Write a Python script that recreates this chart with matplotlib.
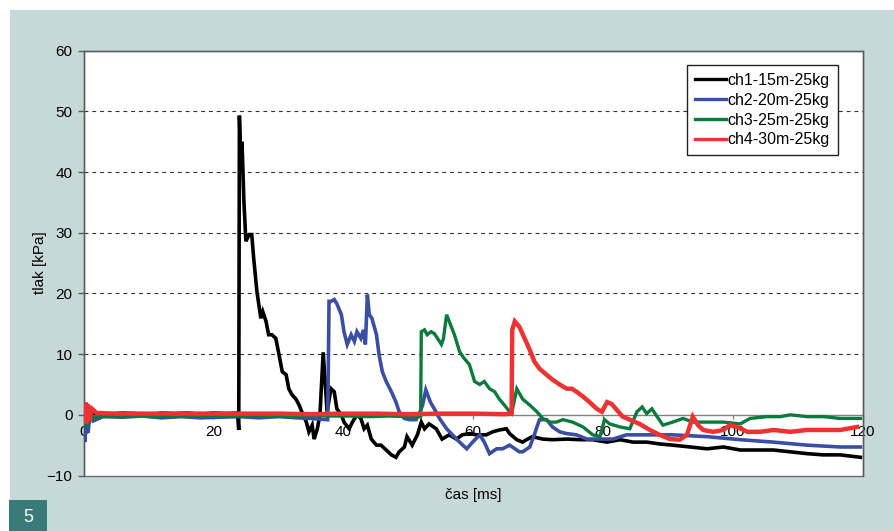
import matplotlib
matplotlib.use("Agg")
import matplotlib.pyplot as plt
from matplotlib.patches import Rectangle

# ---------------- data ----------------
ch1_t = [0, 0.3, 0.6, 1.0, 2, 4, 6, 8, 10, 12, 14, 16, 18, 20, 22, 23.7, 23.9, 24.0, 24.2, 24.4,
         24.7, 25.0, 25.5, 25.9, 26.2, 26.7, 27.3, 27.6, 28.1, 28.5, 29.0, 29.6, 30.1, 30.6, 31.2,
         31.6, 32.1, 32.7, 33.2, 33.6, 34.3, 34.7, 35.2, 35.5, 36.0, 36.4, 36.9, 37.3, 37.5, 38.1,
         38.6, 39.0, 39.7, 40.1, 40.9, 41.4, 42.1, 42.7, 43.2, 43.7, 44.3, 45.1, 45.8, 46.6, 47.4,
         48.1, 48.6, 49.4, 49.8, 50.6, 51.4, 52.0, 52.5, 53.2, 54.3, 55.2, 56.3, 57.4, 58.3, 59.4,
         60.5, 62.0, 63.0, 64.0, 65.1, 65.6, 66.7, 67.6, 68.2, 69.1, 70.7, 72.2, 74.4, 76.4, 78.4,
         80.6, 82.6, 84.6, 86.7, 88.7, 90.7, 93.4, 96.0, 98.5, 101.1, 103.7, 106.2, 108.8, 111.4,
         113.9, 116.5, 119.6]
ch1_p = [0, -1.0, 0.8, 0.2, 0.3, 0.1, 0.3, 0.2, 0.0, 0.3, 0.2, 0.3, 0.1, 0.3, 0.2, 0.3, -2.5, 49.3, 42.0, 45.0,
         35.0, 28.6, 29.7, 29.7, 25.8, 20.3, 15.9, 17.0, 15.4, 13.2, 13.2, 12.6, 9.9, 7.1, 6.6,
         4.3, 3.3, 2.6, 1.6, 0.5, -1.2, -2.8, -1.7, -4.0, -2.3, 0.0, 10.3, 3.8, 0.5, 4.3,
         3.8, 1.0, 0.0, -1.2, -2.3, -1.2, 0.0, -0.6, -2.3, -1.7, -4.0, -5.0, -5.0, -5.8, -6.6,
         -7.0, -6.1, -5.3, -3.6, -5.0, -3.3, -1.2, -2.3, -1.5, -2.3, -4.0, -3.3, -4.0, -3.3, -3.1,
         -3.3, -3.3, -2.8, -2.5, -2.3, -3.1, -4.1, -4.5, -4.1, -3.6, -4.0, -4.1, -4.0, -4.1, -4.1,
         -4.5, -4.1, -4.5, -4.5, -4.8, -5.0, -5.3, -5.6, -5.3, -5.8, -5.8, -5.8, -6.1, -6.4,
         -6.6, -6.6, -7.0]

ch2_t = [0, 0.2, 0.4, 0.7, 1.0, 1.5, 3, 6, 9, 12, 15, 18, 21, 24, 27, 30, 33, 35, 37.6,
         37.8, 38.1, 38.6, 39.0, 39.7, 40.1, 40.6, 41.2, 41.7, 42.1, 42.7, 43.1, 43.4, 43.7, 44.0,
         44.4, 45.1, 45.5, 46.0, 46.6, 47.4, 48.1, 48.6, 49.4, 50.2, 51.2, 51.7, 52.2, 52.7, 53.4,
         54.0, 54.8, 55.9, 56.8, 57.9, 59.0, 59.9, 61.0, 61.7, 62.5, 63.6, 64.5, 65.6, 66.7, 67.1,
         67.6, 68.7, 69.4, 69.8, 70.2, 71.3, 72.2, 73.3, 74.4, 75.9, 77.5, 79.5, 81.5, 83.6, 85.6,
         87.7, 90.7, 96.0, 101.1, 106.2, 111.4, 116.5, 119.6]
ch2_p = [-0.5, -4.5, 2.0, -3.0, 0.5, -1.0, -0.3, -0.4, -0.2, -0.5, -0.3, -0.5, -0.4, -0.3, -0.5, -0.3, -0.5, -0.6, -0.8,
         18.7, 18.7, 19.0, 18.3, 16.5, 13.7, 11.6, 13.2, 12.1, 13.7, 12.6, 14.0, 11.6, 19.8, 16.5,
         15.9, 13.2, 9.9, 7.1, 5.5, 3.8, 2.1, 0.5, -0.6, -0.8, -0.8, 0.2, 1.6, 4.1, 2.1,
         1.0, -0.6, -2.3, -3.3, -4.5, -5.6, -4.5, -3.3, -4.5, -6.4, -5.6, -5.6, -5.0, -5.8, -6.1,
         -6.1, -5.3, -3.3, -2.0, -0.8, -0.8, -2.0, -2.8, -3.1, -3.3, -4.0, -4.0, -4.0, -3.3, -3.3,
         -3.3, -3.3, -3.6, -4.1, -4.5, -5.0, -5.3, -5.3]

ch3_t = [0, 0.2, 0.5, 0.8, 1.2, 2, 5, 8, 11, 14, 17, 20, 23, 26, 29, 32, 35, 38, 41, 44, 47, 50, 51.9,
         52.0, 52.5, 52.9, 53.5, 54.0, 54.5, 55.1, 55.4, 55.9, 56.3, 57.1, 57.9, 58.6, 59.4, 60.2,
         61.0, 61.7, 62.5, 63.3, 64.0, 64.8, 65.6, 65.9, 66.7, 67.6, 68.7, 69.8, 70.7, 71.8, 72.8,
         73.8, 75.3, 76.9, 78.4, 79.5, 80.2, 81.0, 82.6, 84.1, 85.2, 86.0, 86.7, 87.5, 88.3, 89.2,
         90.7, 92.3, 93.8, 96.0, 98.5, 101.1, 102.6, 105.2, 107.3, 108.8, 111.4, 113.9, 116.5, 119.6]
ch3_p = [0, -2.0, 0.8, -1.5, -0.5, -0.3, -0.2, -0.1, -0.3, -0.2, -0.1, -0.3, -0.2, -0.1, -0.2, -0.3, -0.1, -0.2, -0.2, -0.3, -0.2, -0.3, -0.3,
         13.7, 14.0, 13.2, 13.7, 13.4, 12.6, 11.6, 12.5, 16.5, 15.4, 13.2, 10.4, 9.3, 8.3, 5.5,
         5.0, 5.5, 4.3, 3.8, 2.6, 1.6, 0.5, 0.2, 4.3, 2.6, 1.6, 0.5, -0.6, -1.2, -1.2,
         -0.8, -1.2, -2.0, -3.3, -3.6, -0.8, -1.5, -2.0, -2.3, 0.5, 1.3, 0.2, 1.0, -0.3, -1.7,
         -1.2, -0.6, -1.2, -1.2, -1.2, -1.5, -0.6, -0.3, -0.3, 0.0, -0.3, -0.3, -0.6, -0.6]

ch4_t = [0, 0.2, 0.4, 0.6, 0.9, 1.3, 2, 5, 10, 15, 20, 25, 30, 35, 40, 45, 50, 55, 60, 65, 65.9,
         66.0, 66.4, 67.1, 67.9, 68.7, 69.4, 70.2, 71.3, 72.2, 73.3, 74.4, 75.2, 75.9, 76.9, 77.9,
         79.0, 79.8, 80.6, 81.3, 82.1, 83.0, 84.1, 85.6, 87.2, 88.7, 90.3, 91.8, 92.9, 93.8, 94.6,
         95.4, 96.9, 98.5, 99.5, 100.6, 102.2, 104.2, 106.2, 108.8, 111.4, 113.9, 116.5, 119.1]
ch4_p = [0.5, 2.0, -1.5, 1.8, -1.0, 1.0, 0.3, 0.2, 0.2, 0.2, 0.2, 0.2, 0.2, 0.1, 0.2, 0.2, 0.1, 0.2, 0.2, 0.1, 0.2,
         14.0, 15.4, 14.5, 12.6, 10.7, 8.8, 7.6, 6.6, 5.8, 5.0, 4.3, 4.3, 3.8, 3.0, 2.1,
         1.0, 0.5, 2.1, 1.8, 0.8, -0.3, -0.8, -1.5, -2.5, -3.3, -4.0, -4.1, -3.3, -0.3, -1.7,
         -2.5, -2.8, -2.5, -1.7, -2.0, -2.8, -2.8, -2.5, -2.8, -2.5, -2.5, -2.5, -2.0]

labels = ["ch1-15m-25kg", "ch2-20m-25kg", "ch3-25m-25kg", "ch4-30m-25kg"]
colors = ["#000000", "#3a4ea3", "#0c7a3c", "#ee3232"]
x_ticks = [0, 20, 40, 60, 80, 100, 120]
y_ticks = [-10, 0, 10, 20, 30, 40, 50, 60]

# ---------------- figure ----------------
plt.rcParams['font.family'] = ['Liberation Sans', 'DejaVu Sans']
W, H = 894, 531
fig = plt.figure(figsize=(W / 100, H / 100), dpi=100)
fig.patch.set_facecolor("white")
bg = Rectangle((10 / W, 0), 1 - 10 / W, 1 - 10 / H, transform=fig.transFigure,
               facecolor="#c6d9d8", edgecolor="none", zorder=-10)
fig.add_artist(bg)
box5 = Rectangle((9 / W, 0), 38 / W, 31 / H, transform=fig.transFigure,
                 facecolor="#3a7b79", edgecolor="none", zorder=-9)
fig.add_artist(box5)
fig.text(28 / W, 1 - 517 / H, "5", color="white", fontsize=13, ha="center", va="center")

left, right, top, bottom = 83.5, 863, 50.7, 475.5
ax = fig.add_axes([left / W, 1 - bottom / H, (right - left) / W, (bottom - top) / H])
ax.set_zorder(5)
ax.set_facecolor("white")

series = [(ch1_t, ch1_p), (ch2_t, ch2_p), (ch3_t, ch3_p), (ch4_t, ch4_p)]
lws = [2.6, 2.6, 2.4, 3.2]
for (t, p), c, lab, lw in zip(series, colors, labels, lws):
    ax.plot(t, p, color=c, lw=lw, label=lab, solid_joinstyle="miter", zorder=3)

ax.set_xlim(0, 120)
ax.set_ylim(-10, 60)
ax.set_yticks(y_ticks)
ax.set_xticks(x_ticks)

for y in [10, 20, 30, 40, 50]:
    ax.axhline(y, color="#333333", lw=0.8, ls=(0, (3.5, 3.5)), zorder=1)

for s in ["top", "right", "left"]:
    ax.spines[s].set_color("#5a5a5a")
    ax.spines[s].set_linewidth(1.0)
ax.spines["bottom"].set_position(("data", 0))
ax.spines["bottom"].set_color("#808080")
ax.spines["bottom"].set_linewidth(1.0)
ax.spines["bottom"].set_zorder(2)
ax.add_patch(Rectangle((0, 0), 1, 1, transform=ax.transAxes, fill=False,
                       edgecolor="#6a6a6a", lw=1.0, zorder=2, clip_on=False))

ax.tick_params(axis="y", direction="out", length=4, width=1, color="#5a5a5a",
               labelsize=11, pad=4)
ax.tick_params(axis="x", direction="out", length=3, width=1, color="#808080",
               labelsize=11, pad=4)

fig.text(40 / W, 1 - 263 / H, "tlak [kPa]", rotation=90, ha="center", va="center", fontsize=11)
fig.text(473 / W, 1 - 495 / H, "čas [ms]", ha="center", va="center", fontsize=11)

leg = ax.legend(loc="upper right", bbox_to_anchor=((838 - left) / (right - left), (bottom - 65) / (bottom - top)),
                fontsize=11.5, frameon=True, fancybox=False, borderaxespad=0, handlelength=1.95,
                handletextpad=0.1, labelspacing=0.3, borderpad=0.5)
leg.get_frame().set_edgecolor("#222222")
leg.get_frame().set_linewidth(1.0)
leg.get_frame().set_alpha(1)
for line in leg.get_lines():
    line.set_linewidth(2.4)

fig.savefig("out.png", dpi=100, facecolor=fig.get_facecolor())
